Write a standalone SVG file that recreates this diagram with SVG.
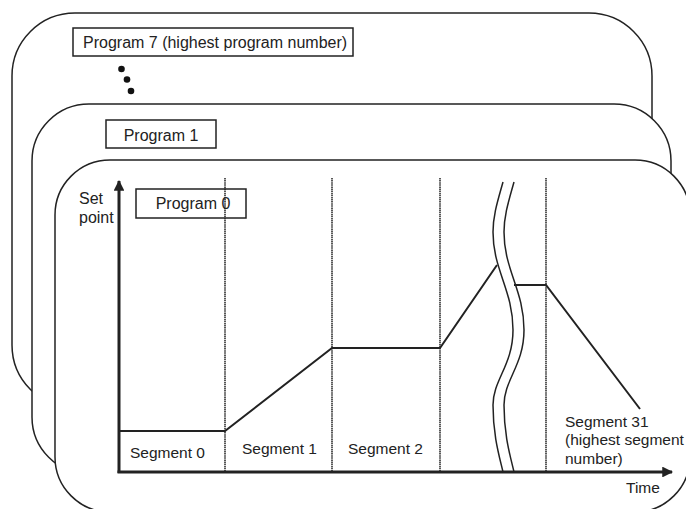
<svg xmlns="http://www.w3.org/2000/svg" width="686" height="509" viewBox="0 0 686 509">
  <defs>
    <style>
      .card { fill: #ffffff; stroke: #222222; stroke-width: 1.5; }
      .box { fill: none; stroke: #222222; stroke-width: 1.5; }
      .t { font-family: "Liberation Sans", Arial, sans-serif; font-size: 15.5px; fill: #222222; }
      .tp { font-size: 16px; }
      .div { stroke: #222222; stroke-width: 1.5; stroke-dasharray: 1.5 0.6; fill: none; }
      .axis { stroke: #222222; stroke-width: 3; fill: none; }
      .data { stroke: #222222; stroke-width: 2; fill: none; stroke-linejoin: miter; }
      .wave { stroke: #222222; stroke-width: 1.5; fill: none; }
    </style>
    <marker id="arrow" viewBox="0 0 10 10" refX="9" refY="5" markerWidth="4.8" markerHeight="3.6" markerUnits="strokeWidth" orient="auto">
      <path d="M0,0 L10,5 L0,10 z" fill="#222222"/>
    </marker>
  </defs>

  <g id="program7">
    <rect class="card" x="12" y="13" width="640" height="395" rx="63" ry="63"/>
    <rect class="box" x="73" y="28" width="280" height="28"/>
    <text class="t tp" x="83" y="48">Program 7 (highest program number)</text>
    <circle cx="121.5" cy="69" r="3.3" fill="#111"/>
    <circle cx="127" cy="79.5" r="3.3" fill="#111"/>
    <circle cx="131" cy="91" r="3.3" fill="#111"/>
  </g>

  <g id="program1">
    <rect class="card" x="32" y="104" width="639" height="370" rx="57" ry="57"/>
    <rect class="box" x="106" y="120" width="110" height="28"/>
    <text class="t tp" x="161" y="141" text-anchor="middle">Program 1</text>
  </g>

  <g id="program0">
    <rect class="card" x="55" y="160" width="635" height="352" rx="55" ry="55"/>
    <rect class="box" x="136" y="189" width="110" height="29"/>
    <text class="t tp" x="193" y="209" text-anchor="middle">Program 0</text>
    <text class="t tp" x="79" y="204">Set</text>
    <text class="t tp" x="79" y="223">point</text>
  </g>

  <g id="dividers">
    <line class="div" x1="225" y1="178" x2="225" y2="472"/>
    <line class="div" x1="332" y1="178" x2="332" y2="472"/>
    <line class="div" x1="440" y1="178" x2="440" y2="472"/>
    <line class="div" x1="546" y1="178" x2="546" y2="472"/>
  </g>

  <g id="axes">
    <line class="axis" x1="119" y1="473" x2="119" y2="181" marker-end="url(#arrow)"/>
    <line class="axis" x1="117.5" y1="472" x2="672" y2="472" marker-end="url(#arrow)"/>
  </g>

  <g id="connectors">
    <polyline class="data" points="119,431 225,431 332,348 440,348 497,265"/>
    <polyline class="data" points="514,285 546,285 640,409"/>
  </g>

  <g id="break">
    <path class="wave" d="M503,182 C498,200 493,215 493,232 C493,270 513,290 513,330 C513,365 493,380 493,405 C493,435 499,455 503,472"/>
    <path class="wave" d="M514,182 C509,200 504,215 504,232 C504,270 524,290 524,330 C524,365 504,380 504,405 C504,435 510,455 514,472"/>
  </g>

  <g id="labels">
    <text class="t" x="130" y="458">Segment 0</text>
    <text class="t" x="242" y="454">Segment 1</text>
    <text class="t" x="348" y="454">Segment 2</text>
    <text class="t" x="565" y="427">Segment 31</text>
    <text class="t" x="565" y="445">(highest segment</text>
    <text class="t" x="565" y="464">number)</text>
    <text class="t" x="626" y="493">Time</text>
  </g>
</svg>
